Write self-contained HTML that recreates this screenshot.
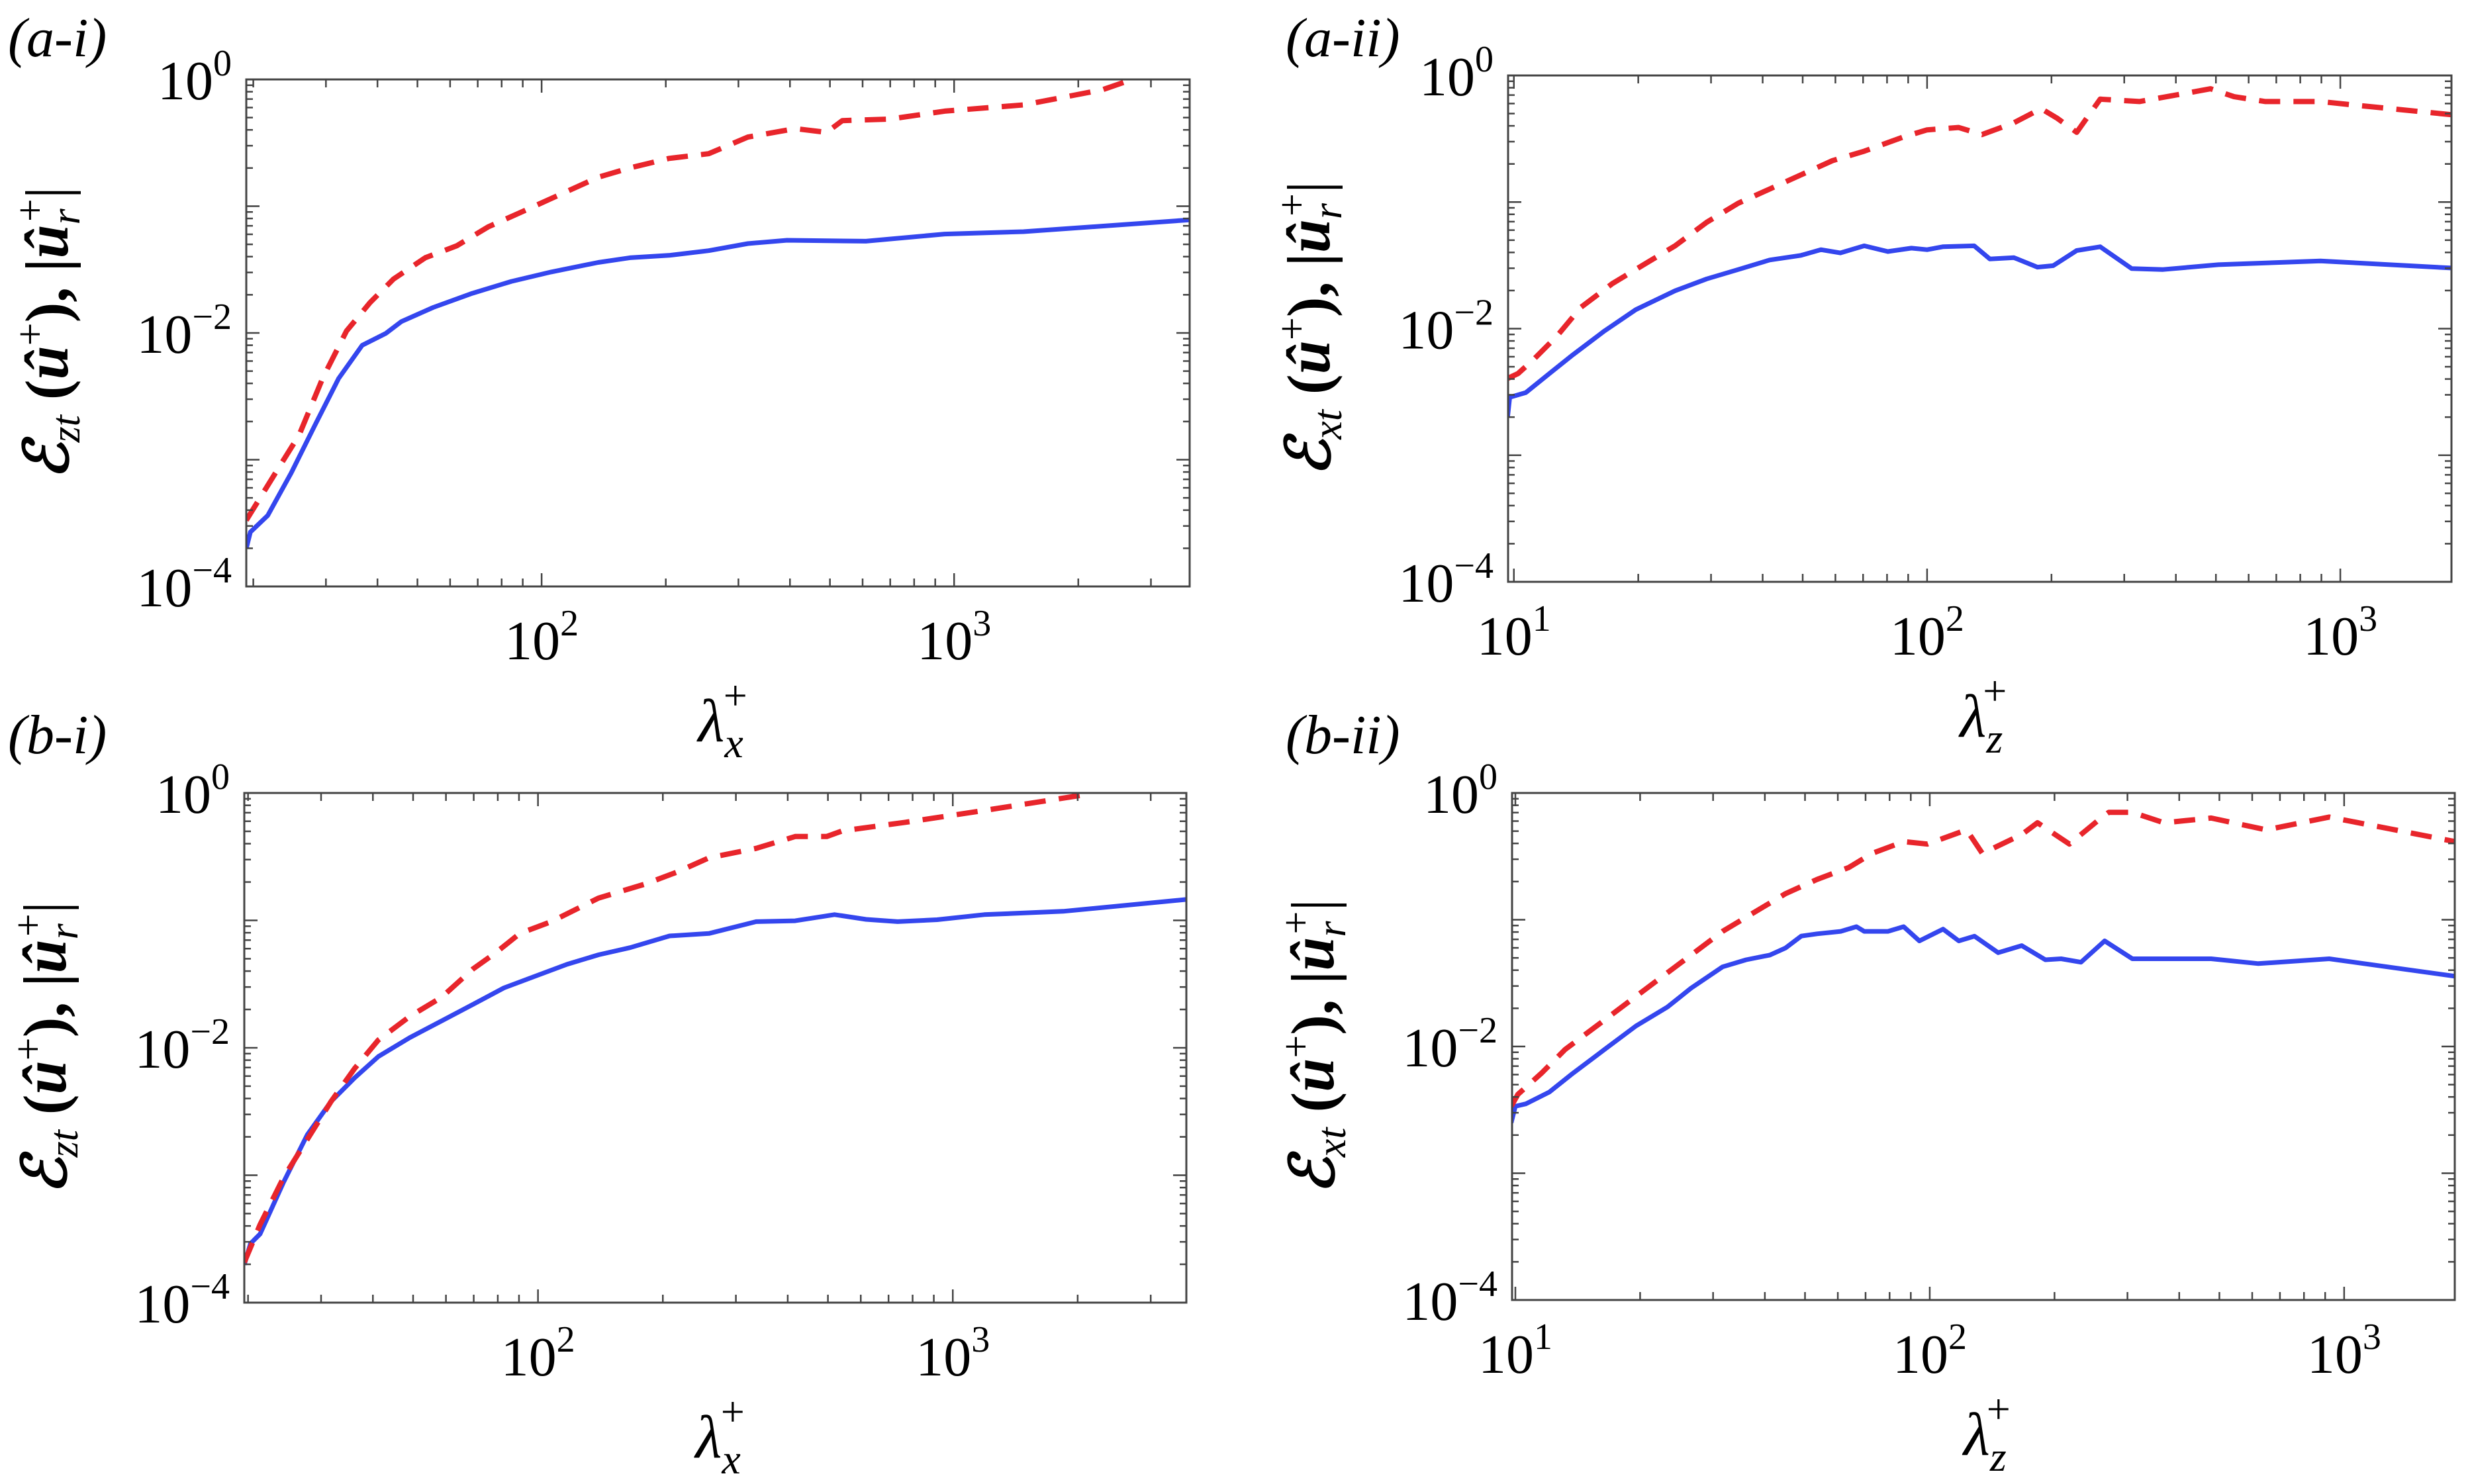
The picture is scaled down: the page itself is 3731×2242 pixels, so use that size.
<!DOCTYPE html>
<html><head><meta charset="utf-8"><style>
html,body{margin:0;padding:0;background:#fff}
svg{display:block;font-family:"Liberation Serif","DejaVu Serif","Times New Roman",serif}
svg text, svg tspan{font-family:"Liberation Serif","DejaVu Serif","Times New Roman",serif;fill:#000}
</style></head><body>
<svg id="fig" width="3731" height="2242" viewBox="0 0 3731 2242" xmlns="http://www.w3.org/2000/svg"></svg>
<script>
// ---- data (log10 lambda, log10 value) ----
const aiRedX=[1.284,1.355,1.412,1.469,1.527,1.584,1.641,1.718,1.794,1.870,1.947,2.023,2.137,2.214,2.309,2.405,2.500,2.615,2.691,2.729,2.844,2.977,3.168,3.359,3.426];
const aiRedY=[-3.478,-3.104,-2.806,-2.358,-1.985,-1.761,-1.575,-1.407,-1.313,-1.164,-1.052,-0.940,-0.772,-0.698,-0.623,-0.586,-0.455,-0.388,-0.418,-0.325,-0.313,-0.250,-0.201,-0.082,-0.007];
const aiBlueX=[1.284,1.294,1.336,1.393,1.450,1.508,1.565,1.622,1.660,1.737,1.832,1.927,2.023,2.137,2.214,2.309,2.405,2.500,2.595,2.786,2.977,3.168,3.359,3.571];
const aiBlueY=[-3.701,-3.571,-3.440,-3.104,-2.731,-2.358,-2.097,-2.004,-1.910,-1.799,-1.687,-1.593,-1.519,-1.444,-1.407,-1.388,-1.351,-1.295,-1.269,-1.276,-1.220,-1.201,-1.157,-1.108];

const aiiRedX=[0.985,1.010,1.048,1.105,1.162,1.238,1.314,1.390,1.467,1.543,1.619,1.695,1.771,1.848,1.943,2.000,2.076,2.133,2.210,2.276,2.314,2.362,2.419,2.514,2.610,2.686,2.743,2.819,2.952,3.029,3.269];
const aiiRedY=[-2.393,-2.355,-2.243,-2.056,-1.832,-1.645,-1.495,-1.346,-1.159,-1.009,-0.897,-0.785,-0.673,-0.598,-0.486,-0.430,-0.411,-0.467,-0.374,-0.262,-0.336,-0.449,-0.187,-0.206,-0.150,-0.105,-0.168,-0.206,-0.206,-0.232,-0.310];
const aiiBlueX=[0.985,0.990,1.029,1.086,1.143,1.219,1.295,1.390,1.467,1.543,1.619,1.695,1.743,1.790,1.848,1.905,1.962,2.000,2.038,2.114,2.152,2.210,2.267,2.305,2.362,2.419,2.495,2.571,2.705,2.952,3.269];
const aiiBlueY=[-2.692,-2.542,-2.505,-2.355,-2.206,-2.019,-1.850,-1.701,-1.607,-1.533,-1.458,-1.421,-1.376,-1.402,-1.346,-1.391,-1.364,-1.376,-1.353,-1.346,-1.450,-1.439,-1.514,-1.503,-1.383,-1.353,-1.525,-1.533,-1.495,-1.465,-1.521];

const biRedX=[1.292,1.330,1.387,1.444,1.501,1.558,1.615,1.691,1.767,1.843,1.899,1.956,2.032,2.146,2.260,2.336,2.412,2.526,2.620,2.696,2.734,2.886,3.076,3.332];
const biRedY=[-3.684,-3.388,-3.016,-2.719,-2.422,-2.162,-1.939,-1.753,-1.605,-1.382,-1.252,-1.103,-1.010,-0.825,-0.713,-0.620,-0.509,-0.435,-0.342,-0.342,-0.297,-0.230,-0.137,-0.007];
const biBlueX=[1.292,1.307,1.330,1.387,1.444,1.501,1.558,1.615,1.691,1.767,1.843,1.918,1.994,2.070,2.146,2.222,2.317,2.412,2.526,2.620,2.715,2.791,2.867,2.962,3.076,3.266,3.563];
const biBlueY=[-3.703,-3.536,-3.462,-3.053,-2.682,-2.422,-2.236,-2.069,-1.920,-1.790,-1.660,-1.530,-1.437,-1.345,-1.270,-1.214,-1.122,-1.103,-1.010,-1.003,-0.955,-0.992,-1.010,-0.995,-0.955,-0.929,-0.836];

const biiRedX=[0.990,1.006,1.063,1.120,1.196,1.272,1.348,1.424,1.500,1.576,1.652,1.728,1.804,1.861,1.937,1.994,2.089,2.127,2.222,2.260,2.337,2.413,2.432,2.489,2.565,2.679,2.812,2.964,3.268];
const biiRedY=[-2.472,-2.378,-2.211,-2.024,-1.838,-1.651,-1.465,-1.279,-1.092,-0.943,-0.794,-0.682,-0.589,-0.477,-0.384,-0.403,-0.291,-0.477,-0.328,-0.235,-0.403,-0.198,-0.153,-0.153,-0.235,-0.198,-0.291,-0.190,-0.384];
const biiBlueX=[0.990,1.000,1.025,1.082,1.139,1.215,1.291,1.367,1.424,1.500,1.557,1.614,1.652,1.690,1.728,1.785,1.823,1.842,1.899,1.937,1.975,2.032,2.070,2.108,2.165,2.222,2.279,2.317,2.365,2.422,2.489,2.679,2.793,2.964,3.268];
const biiBlueY=[-2.602,-2.472,-2.453,-2.360,-2.211,-2.024,-1.838,-1.689,-1.540,-1.372,-1.316,-1.279,-1.223,-1.129,-1.111,-1.092,-1.055,-1.092,-1.092,-1.055,-1.167,-1.074,-1.167,-1.130,-1.260,-1.204,-1.316,-1.308,-1.335,-1.167,-1.308,-1.308,-1.346,-1.308,-1.446];

const yTickExps=[0,-2,-4];
const xTickExpsI=[2,3];
const xTickExpsII=[1,2,3];

const NS="http://www.w3.org/2000/svg";
const svg=document.getElementById('fig');
function el(tag,attrs,parent){const e=document.createElementNS(NS,tag);for(const k in attrs)e.setAttribute(k,attrs[k]);(parent||svg).appendChild(e);return e;}

const panels=[
 {id:'a-i',L:372,R:1797,T:120,B:886,x0:1.284,x1:3.571,xt:xTickExpsI,sub:'zt',xs:'x',rx:aiRedX,ry:aiRedY,bx:aiBlueX,by:aiBlueY,lx:12,ly:57},
 {id:'a-ii',L:2278,R:3703,T:114,B:879,x0:0.986,x1:3.269,xt:xTickExpsII,sub:'xt',xs:'z',rx:aiiRedX,ry:aiiRedY,bx:aiiBlueX,by:aiiBlueY,lx:1942,ly:57},
 {id:'b-i',L:369,R:1792,T:1198,B:1968,x0:1.292,x1:3.563,xt:xTickExpsI,sub:'zt',xs:'x',rx:biRedX,ry:biRedY,bx:biBlueX,by:biBlueY,lx:12,ly:1110},
 {id:'b-ii',L:2284,R:3708,T:1198,B:1964,x0:0.992,x1:3.267,xt:xTickExpsII,sub:'xt',xs:'z',rx:biiRedX,ry:biiRedY,bx:biiBlueX,by:biiBlueY,lx:1942,ly:1110}
];

panels.forEach(p=>{
  const g=el('g',{});
  
  
  const sx=v=>p.L+(v-p.x0)/(p.x1-p.x0)*(p.R-p.L);
  const sy=v=>p.T+(0-v)/4*(p.B-p.T);
  const lab=el('text',{x:p.lx,y:p.ly+28,'font-size':84,'font-style':'italic'},g);
  lab.textContent='('+p.id+')';
  
  
  const cid='clip-'+p.id;
  const cp=el('clipPath',{id:cid},g);
  el('rect',{x:p.L,y:p.T,width:p.R-p.L,height:p.B-p.T},cp);
  function line(xs,ys,color,dash,w,name){
    let d='';xs.forEach((x,i)=>{d+=(i?'L':'M')+sx(x).toFixed(1)+' '+sy(ys[i]).toFixed(1);});
    const a={d:d,fill:'none',stroke:color,'stroke-width':w,'stroke-linejoin':'round','clip-path':'url(#'+cid+')'};
    if(dash)a['stroke-dasharray']=dash;
    const pth=el('path',a,g);
    
    
  }
  line(p.bx,p.by,'#3446ee',null,7,'blue-solid-series');
  line(p.rx,p.ry,'#e8252b','32 20',8,'red-dashed-series');
  const box=el('rect',{x:p.L,y:p.T,width:p.R-p.L,height:p.B-p.T,fill:'none',stroke:'#444','stroke-width':3},g);
  
  
  for(let e=Math.floor(p.x0);e<=Math.ceil(p.x1);e++){
    for(let m=1;m<10;m++){
      const v=e+Math.log10(m); if(v<p.x0-1e-6||v>p.x1+1e-6)continue;
      const x=sx(v),len=m===1?20:12;
      el('line',{x1:x,y1:p.B,x2:x,y2:p.B-len,stroke:'#444','stroke-width':2.5},g);
      el('line',{x1:x,y1:p.T,x2:x,y2:p.T+len,stroke:'#444','stroke-width':2.5},g);
    }
  }
  for(let e=-4;e<=0;e++){
    for(let m=1;m<10;m++){
      const v=e+Math.log10(m); if(v>0.0001)continue;
      const y=sy(v),len=m===1?20:10;
      el('line',{x1:p.L,y1:y,x2:p.L+len,y2:y,stroke:'#444','stroke-width':2.5},g);
      el('line',{x1:p.R,y1:y,x2:p.R-len,y2:y,stroke:'#444','stroke-width':2.5},g);
    }
  }
  p.xt.forEach(e=>{
    const t=el('text',{x:sx(e),y:p.B+110,'font-size':84,'text-anchor':'middle'},g);
    
    
    t.appendChild(document.createTextNode('10'));
    const s=el('tspan',{'font-size':56,dy:-36},t);s.textContent=String(e);
  });
  yTickExps.forEach(e=>{
    const t=el('text',{x:p.L-22,y:sy(e)+30,'font-size':84,'text-anchor':'end'},g);
    
    
    t.appendChild(document.createTextNode('10'));
    const s=el('tspan',{'font-size':56,dy:-36},t);s.textContent=e===0?'0':'\u2212'+(-e);
  });
  const cx=(p.L+p.R)/2;
  const xt=el('text',{x:cx-30,y:p.B+234,'font-size':92,'font-style':'italic'},g);
  
  
  xt.appendChild(document.createTextNode('\u03bb'));
  const xsub=el('tspan',{'font-size':64,dy:24},xt);xsub.textContent=p.xs;
  const xsup=el('tspan',{'font-size':64,dx:-30,dy:-72,'font-style':'normal'},xt);xsup.textContent='+';
  const ycx=p.L-270, ycy=(p.T+p.B)/2;
  const yt=el('text',{x:0,y:0,'font-size':92,'text-anchor':'middle',transform:'translate('+ycx+','+ycy+') rotate(-90)'},g);
  
  
  const t1=el('tspan',{'font-style':'italic','font-weight':'bold'},yt);t1.textContent='\u2130';
  const t2=el('tspan',{'font-size':62,dy:18,'font-style':'italic'},yt);t2.textContent=p.sub;
  const t3=el('tspan',{dy:-18,'font-weight':'bold'},yt);t3.textContent=' (';
  const t4=el('tspan',{'font-style':'italic','font-weight':'bold'},yt);t4.textContent='\u00fb';
  const t5=el('tspan',{'font-size':62,dy:-36},yt);t5.textContent='+';
  const t6=el('tspan',{dy:36,'font-weight':'bold'},yt);t6.textContent='), |';
  const t7=el('tspan',{'font-style':'italic','font-weight':'bold'},yt);t7.textContent='\u00fb';
  const t8=el('tspan',{'font-size':62,dy:18,'font-style':'italic'},yt);t8.textContent='r';
  const t9=el('tspan',{'font-size':62,dx:-20,dy:-54},yt);t9.textContent='+';
  const t10=el('tspan',{dy:36},yt);t10.textContent='|';
});
</script>
</body></html>
